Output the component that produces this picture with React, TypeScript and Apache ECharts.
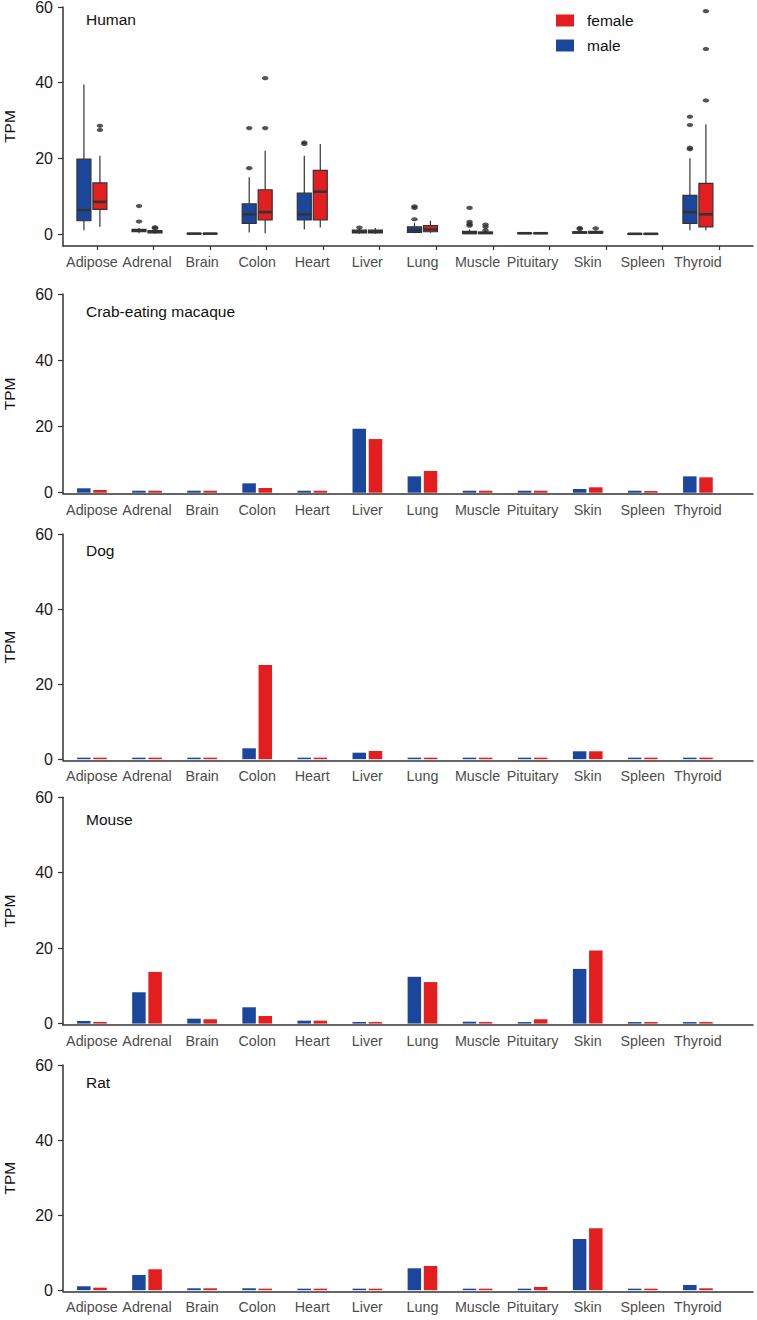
import React, { useEffect, useRef } from "react";
import * as echarts from "echarts";

// ---------------- data ----------------
const TISSUES = ["Adipose", "Adrenal", "Brain", "Colon", "Heart", "Liver", "Lung", "Muscle", "Pituitary", "Skin", "Spleen", "Thyroid"];
const Y_TICKS = [0, 20, 40, 60];
const SPECIES = ["Human", "Crab-eating macaque", "Dog", "Mouse", "Rat"];
const SEXES = ["female", "male"];

// Human: [min, q1, median, q3, max] per tissue
const HUMAN_MALE = [
  [1.0, 3.5, 6.3, 19.8, 39.5],
  [0.2, 0.6, 0.9, 1.2, 1.6],
  [0.0, 0.05, 0.1, 0.15, 0.25],
  [0.4, 2.8, 5.2, 8.0, 15.0],
  [1.2, 3.7, 5.2, 10.8, 20.7],
  [0.1, 0.3, 0.6, 1.0, 1.3],
  [0.2, 0.4, 1.0, 1.9, 3.0],
  [0.0, 0.1, 0.3, 0.7, 1.2],
  [0.1, 0.15, 0.2, 0.25, 0.3],
  [0.1, 0.2, 0.4, 0.6, 0.9],
  [0.0, 0.02, 0.05, 0.08, 0.1],
  [1.0, 2.8, 5.8, 10.2, 20.0],
];
const HUMAN_FEMALE = [
  [1.9, 6.5, 8.5, 13.5, 20.7],
  [0.1, 0.3, 0.6, 0.9, 1.2],
  [0.0, 0.05, 0.1, 0.15, 0.2],
  [0.2, 3.7, 5.8, 11.7, 22.0],
  [1.7, 3.7, 11.2, 16.8, 23.8],
  [0.1, 0.3, 0.6, 1.0, 1.6],
  [0.3, 0.6, 1.2, 2.2, 3.5],
  [0.0, 0.1, 0.3, 0.5, 0.9],
  [0.1, 0.15, 0.2, 0.25, 0.3],
  [0.1, 0.2, 0.4, 0.7, 0.9],
  [0.0, 0.02, 0.05, 0.1, 0.15],
  [1.0, 1.9, 5.2, 13.4, 29.0],
];
const HUMAN_MALE_OUT = [[], [3.3, 7.4], [], [17.4, 28.0], [23.8, 24.2], [1.7], [3.9, 6.9, 7.3], [2.2, 2.6, 3.2, 6.9], [], [1.3, 1.6], [], [22.4, 22.8, 28.8, 31.0]];
const HUMAN_FEMALE_OUT = [[27.5, 28.6], [1.5, 1.8], [], [28.0, 41.2], [], [], [], [1.0, 1.9, 2.5], [], [1.5], [], [35.3, 48.9, 58.9]];

const MACAQUE_MALE = [1.33, 0.6, 0.6, 2.83, 0.6, 19.3, 4.94, 0.6, 0.6, 1.12, 0.6, 4.94];
const MACAQUE_FEMALE = [0.82, 0.6, 0.6, 1.42, 0.6, 16.2, 6.55, 0.6, 0.6, 1.63, 0.5, 4.64];
const DOG_MALE = [0.35, 0.35, 0.35, 2.9, 0.35, 1.73, 0.35, 0.35, 0.35, 2.1, 0.35, 0.35];
const DOG_FEMALE = [0.35, 0.35, 0.35, 25.1, 0.35, 2.18, 0.35, 0.35, 0.35, 2.1, 0.35, 0.35];
const MOUSE_MALE = [0.69, 8.3, 1.3, 4.32, 0.77, 0.42, 12.4, 0.5, 0.34, 14.5, 0.16, 0.34];
const MOUSE_FEMALE = [0.42, 13.7, 1.14, 2.0, 0.77, 0.16, 11.0, 0.24, 1.14, 19.4, 0.16, 0.16];
const RAT_MALE = [1.04, 4.05, 0.5, 0.5, 0.15, 0.1, 5.83, 0.24, 0.4, 13.64, 0.1, 1.39];
const RAT_FEMALE = [0.67, 5.57, 0.5, 0.4, 0.15, 0.1, 6.45, 0.1, 0.85, 16.5, 0.1, 0.5];

// ---------------- styles / layout ----------------
const W = 757;
const H = 1320;
const FONT = '"Liberation Sans", Arial, Helvetica, sans-serif';
const BLUE = "#1a479b";
const RED = "#e31e1e";
const AXIS = "#333333";
const X_MIN = 0.475;
const X_MAX = 13.0;
const OFF = 0.145; // dodge offset (axis units)
const BOX_W = 0.254; // box width (axis units)

const PANEL_LAYOUT = [
  { top: 7, axisY: 246, yMin: -3.17, titleTop: 11 },
  { top: 294, axisY: 493.7, yMin: -0.3, titleTop: 303 },
  { top: 534, axisY: 760.3, yMin: -0.3, titleTop: 542 },
  { top: 797.3, axisY: 1024.7, yMin: -0.3, titleTop: 811 },
  { top: 1065, axisY: 1291.3, yMin: -0.3, titleTop: 1074 },
];

const BAR_PANELS = [
  [MACAQUE_MALE, MACAQUE_FEMALE],
  [DOG_MALE, DOG_FEMALE],
  [MOUSE_MALE, MOUSE_FEMALE],
  [RAT_MALE, RAT_FEMALE],
];

function makeBoxRenderer(fill: string) {
  return (params: any, api: any) => {
    const x = api.value(0);
    const pMin = api.coord([x, api.value(1)]);
    const pQ1 = api.coord([x, api.value(2)]);
    const pMed = api.coord([x, api.value(3)]);
    const pQ3 = api.coord([x, api.value(4)]);
    const pMax = api.coord([x, api.value(5)]);
    const w = api.size([BOX_W, 0])[0];
    const cx = pMed[0];
    const line = { stroke: AXIS, lineWidth: 1.2 };
    return {
      type: "group",
      children: [
        { type: "line", shape: { x1: cx, y1: pMax[1], x2: cx, y2: pQ3[1] }, style: line },
        { type: "line", shape: { x1: cx, y1: pQ1[1], x2: cx, y2: pMin[1] }, style: line },
        {
          type: "rect",
          shape: { x: cx - w / 2, y: pQ3[1], width: w, height: Math.max(pQ1[1] - pQ3[1], 0.5) },
          style: { fill, stroke: AXIS, lineWidth: 1.2 },
        },
        { type: "line", shape: { x1: cx - w / 2, y1: pMed[1], x2: cx + w / 2, y2: pMed[1] }, style: { stroke: AXIS, lineWidth: 2.6 } },
      ],
    };
  };
}

function buildOption() {
  const cats = TISSUES.map((_, i) => i + 1);
  const grid = PANEL_LAYOUT.map((p) => ({
    left: 63,
    right: 4,
    top: p.top,
    bottom: H - p.axisY,
    containLabel: false,
    outerBoundsMode: "none",
  }));
  const xAxis: any[] = PANEL_LAYOUT.map((p, k) => ({
    type: "value",
    gridIndex: k,
    min: X_MIN,
    max: X_MAX,
    position: "bottom",
    axisLine: { show: true, onZero: false, lineStyle: { color: AXIS, width: 1.5 } },
    axisTick: { show: false },
    axisLabel: {
      show: true,
      customValues: cats,
      formatter: (v: number) => TISSUES[Math.round(v) - 1] ?? "",
      color: "#4d4d4d",
      fontSize: 14.3,
      fontFamily: FONT,
      margin: 9,
    },
    splitLine: { show: false },
  }));
  // tick marks of the human panel (ggplot-style discrete axis)
  xAxis.push({
    type: "value",
    gridIndex: 0,
    min: 0.4,
    max: 12.6,
    position: "bottom",
    axisLine: { show: false, onZero: false },
    axisTick: { show: true, customValues: cats, length: 4, lineStyle: { color: AXIS, width: 1.2 } },
    axisLabel: { show: false },
    splitLine: { show: false },
  });
  const yAxis = PANEL_LAYOUT.map((p, k) => ({
    type: "value",
    gridIndex: k,
    min: p.yMin,
    max: 60,
    name: "TPM",
    nameLocation: "middle",
    nameGap: 46,
    nameTextStyle: { color: "#111", fontSize: 15.5, fontFamily: FONT },
    axisLine: { show: true, onZero: false, lineStyle: { color: AXIS, width: 1.5 } },
    axisTick: { show: true, customValues: Y_TICKS, length: 5, lineStyle: { color: AXIS, width: 1.2 } },
    axisLabel: { show: true, customValues: Y_TICKS, color: "#1a1a1a", fontSize: 16, fontFamily: FONT, margin: 10 },
    splitLine: { show: false },
  }));
  const title = SPECIES.map((s, k) => ({
    text: s,
    left: 86,
    top: PANEL_LAYOUT[k].titleTop,
    padding: 0,
    textStyle: { fontSize: 15.5, fontWeight: "normal", color: "#111", fontFamily: FONT },
  }));

  const outlierData: number[][] = [];
  HUMAN_MALE_OUT.forEach((arr, i) => arr.forEach((v) => outlierData.push([i + 1 - OFF, v])));
  HUMAN_FEMALE_OUT.forEach((arr, i) => arr.forEach((v) => outlierData.push([i + 1 + OFF, v])));

  const series: any[] = [
    {
      type: "custom",
      name: "male",
      xAxisIndex: 0,
      yAxisIndex: 0,
      renderItem: makeBoxRenderer(BLUE),
      itemStyle: { color: BLUE },
      encode: { x: 0, y: [1, 2, 3, 4, 5] },
      data: HUMAN_MALE.map((b, i) => [i + 1 - OFF, ...b]),
      z: 2,
    },
    {
      type: "custom",
      name: "female",
      xAxisIndex: 0,
      yAxisIndex: 0,
      renderItem: makeBoxRenderer(RED),
      itemStyle: { color: RED },
      encode: { x: 0, y: [1, 2, 3, 4, 5] },
      data: HUMAN_FEMALE.map((b, i) => [i + 1 + OFF, ...b]),
      z: 2,
    },
    {
      type: "scatter",
      name: "outliers",
      xAxisIndex: 0,
      yAxisIndex: 0,
      symbol: "circle",
      symbolSize: [6.5, 4.2],
      itemStyle: { color: "#2b2b2b" },
      data: outlierData,
      z: 3,
    },
  ];
  BAR_PANELS.forEach(([male, female], k) => {
    const common = {
      type: "bar",
      xAxisIndex: k + 1,
      yAxisIndex: k + 1,
      barWidth: 13.5,
      barGap: "20%",
      barMinHeight: 1.5,
    };
    series.push({
      ...common,
      name: "male",
      itemStyle: { color: BLUE },
      data: male.map((v, i) => [i + 1, v]),
    });
    series.push({
      ...common,
      name: "female",
      itemStyle: { color: RED },
      data: female.map((v, i) => [i + 1, v]),
    });
  });

  return {
    animation: false,
    backgroundColor: "#ffffff",
    textStyle: { fontFamily: FONT },
    title,
    legend: {
      orient: "vertical",
      left: 556,
      top: 12.5,
      padding: 0,
      itemWidth: 18,
      itemHeight: 12,
      itemGap: 9,
      icon: "rect",
      selectedMode: false,
      data: [
        { name: SEXES[0], itemStyle: { color: RED } },
        { name: SEXES[1], itemStyle: { color: BLUE } },
      ],
      textStyle: { fontSize: 15.5, color: "#111", fontFamily: FONT, padding: [0, 0, 0, 8] },
    },
    grid,
    xAxis,
    yAxis,
    series,
  };
}

export default function App() {
  const ref = useRef<HTMLDivElement>(null);
  useEffect(() => {
    document.body.style.margin = "0";
    if (!ref.current) return;
    const chart = echarts.init(ref.current, null, { renderer: "svg" });
    chart.setOption(buildOption() as any);
    return () => chart.dispose();
  }, []);
  return <div ref={ref} style={{ width: W, height: H }} />;
}
